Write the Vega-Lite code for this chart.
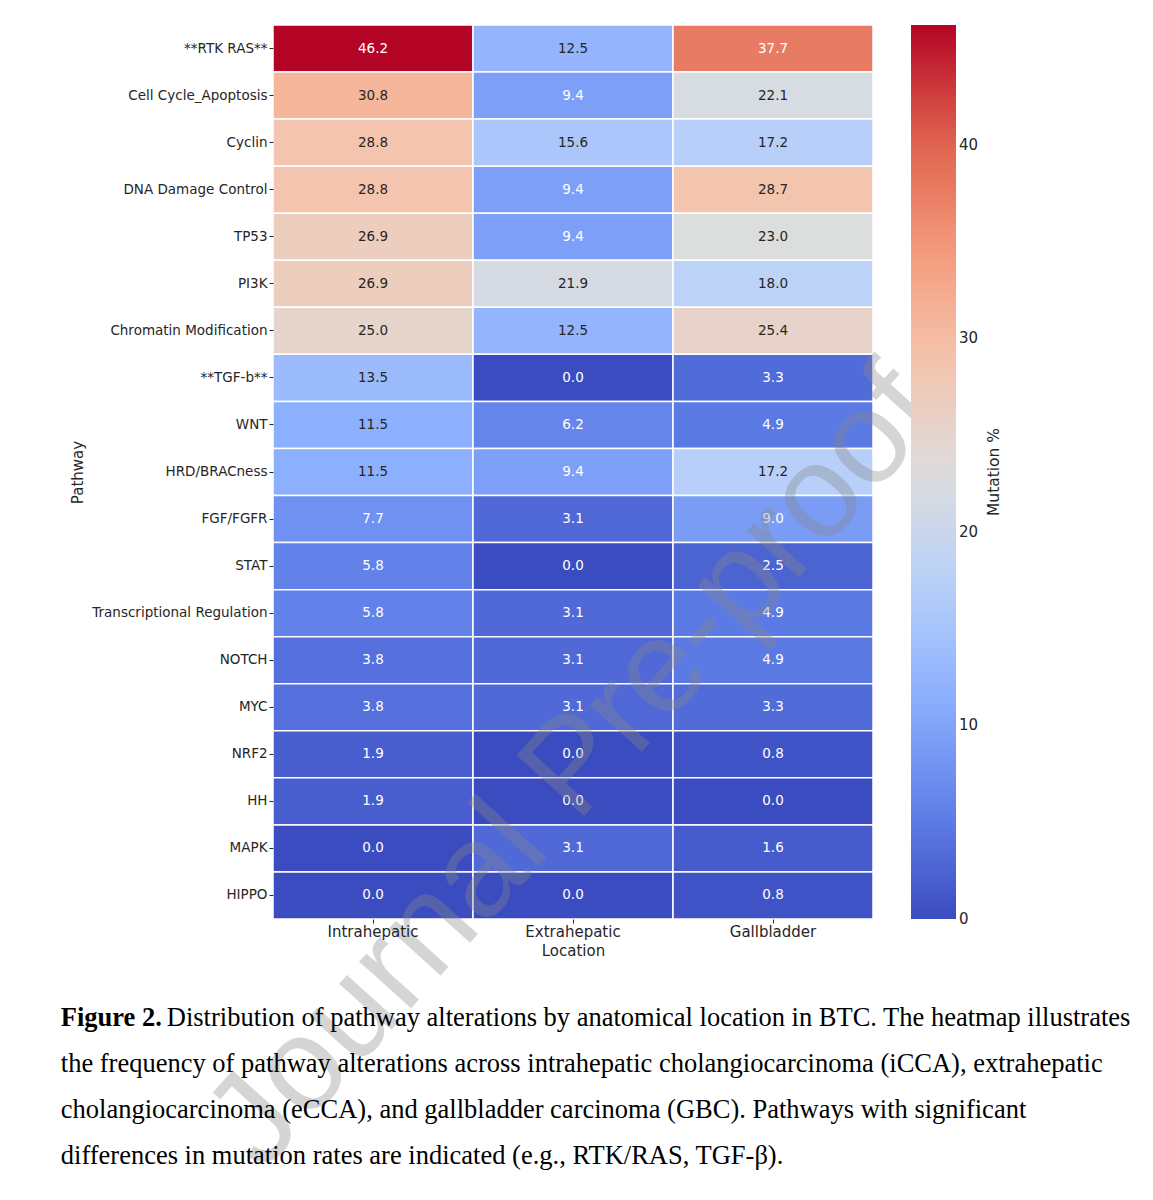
{
  "$schema": "https://vega.github.io/schema/vega-lite/v6.json",
  "width": 600,
  "height": 894,
  "padding": {"left": 60, "top": 24, "right": 5, "bottom": 5},
  "background": "white",
  "config": {"view": {"stroke": null}, "font": "DejaVu Sans"},
  "title": {
    "text": "Figure 2.",
    "subtitle": [
      "\u200b\u00a0\u00a0\u00a0\u00a0\u00a0\u00a0\u00a0\u00a0\u00a0\u00a0\u00a0\u00a0\u00a0\u00a0\u00a0\u00a0Distribution of pathway alterations by anatomical location in BTC. The heatmap illustrates",
      "the frequency of pathway alterations across intrahepatic cholangiocarcinoma (iCCA), extrahepatic",
      "cholangiocarcinoma (eCCA), and gallbladder carcinoma (GBC). Pathways with significant",
      "differences in mutation rates are indicated (e.g., RTK/RAS, TGF-β)."
    ],
    "orient": "bottom",
    "anchor": "start",
    "frame": "bounds",
    "font": "Liberation Serif",
    "fontSize": 26.5,
    "fontWeight": "bold",
    "color": "black",
    "subtitleFont": "Liberation Serif",
    "subtitleFontSize": 26.5,
    "subtitleColor": "black",
    "subtitleLineHeight": 46,
    "subtitlePadding": -26.5,
    "offset": -185,
    "dx": -10
  },
  "data": {
    "values": [
      {"Pathway": "**RTK RAS**", "Location": "Intrahepatic", "value": 46.2},
      {"Pathway": "**RTK RAS**", "Location": "Extrahepatic", "value": 12.5},
      {"Pathway": "**RTK RAS**", "Location": "Gallbladder", "value": 37.7},
      {"Pathway": "Cell Cycle_Apoptosis", "Location": "Intrahepatic", "value": 30.8},
      {"Pathway": "Cell Cycle_Apoptosis", "Location": "Extrahepatic", "value": 9.4},
      {"Pathway": "Cell Cycle_Apoptosis", "Location": "Gallbladder", "value": 22.1},
      {"Pathway": "Cyclin", "Location": "Intrahepatic", "value": 28.8},
      {"Pathway": "Cyclin", "Location": "Extrahepatic", "value": 15.6},
      {"Pathway": "Cyclin", "Location": "Gallbladder", "value": 17.2},
      {"Pathway": "DNA Damage Control", "Location": "Intrahepatic", "value": 28.8},
      {"Pathway": "DNA Damage Control", "Location": "Extrahepatic", "value": 9.4},
      {"Pathway": "DNA Damage Control", "Location": "Gallbladder", "value": 28.7},
      {"Pathway": "TP53", "Location": "Intrahepatic", "value": 26.9},
      {"Pathway": "TP53", "Location": "Extrahepatic", "value": 9.4},
      {"Pathway": "TP53", "Location": "Gallbladder", "value": 23.0},
      {"Pathway": "PI3K", "Location": "Intrahepatic", "value": 26.9},
      {"Pathway": "PI3K", "Location": "Extrahepatic", "value": 21.9},
      {"Pathway": "PI3K", "Location": "Gallbladder", "value": 18.0},
      {"Pathway": "Chromatin Modification", "Location": "Intrahepatic", "value": 25.0},
      {"Pathway": "Chromatin Modification", "Location": "Extrahepatic", "value": 12.5},
      {"Pathway": "Chromatin Modification", "Location": "Gallbladder", "value": 25.4},
      {"Pathway": "**TGF-b**", "Location": "Intrahepatic", "value": 13.5},
      {"Pathway": "**TGF-b**", "Location": "Extrahepatic", "value": 0.0},
      {"Pathway": "**TGF-b**", "Location": "Gallbladder", "value": 3.3},
      {"Pathway": "WNT", "Location": "Intrahepatic", "value": 11.5},
      {"Pathway": "WNT", "Location": "Extrahepatic", "value": 6.2},
      {"Pathway": "WNT", "Location": "Gallbladder", "value": 4.9},
      {"Pathway": "HRD/BRACness", "Location": "Intrahepatic", "value": 11.5},
      {"Pathway": "HRD/BRACness", "Location": "Extrahepatic", "value": 9.4},
      {"Pathway": "HRD/BRACness", "Location": "Gallbladder", "value": 17.2},
      {"Pathway": "FGF/FGFR", "Location": "Intrahepatic", "value": 7.7},
      {"Pathway": "FGF/FGFR", "Location": "Extrahepatic", "value": 3.1},
      {"Pathway": "FGF/FGFR", "Location": "Gallbladder", "value": 9.0},
      {"Pathway": "STAT", "Location": "Intrahepatic", "value": 5.8},
      {"Pathway": "STAT", "Location": "Extrahepatic", "value": 0.0},
      {"Pathway": "STAT", "Location": "Gallbladder", "value": 2.5},
      {"Pathway": "Transcriptional Regulation", "Location": "Intrahepatic", "value": 5.8},
      {"Pathway": "Transcriptional Regulation", "Location": "Extrahepatic", "value": 3.1},
      {"Pathway": "Transcriptional Regulation", "Location": "Gallbladder", "value": 4.9},
      {"Pathway": "NOTCH", "Location": "Intrahepatic", "value": 3.8},
      {"Pathway": "NOTCH", "Location": "Extrahepatic", "value": 3.1},
      {"Pathway": "NOTCH", "Location": "Gallbladder", "value": 4.9},
      {"Pathway": "MYC", "Location": "Intrahepatic", "value": 3.8},
      {"Pathway": "MYC", "Location": "Extrahepatic", "value": 3.1},
      {"Pathway": "MYC", "Location": "Gallbladder", "value": 3.3},
      {"Pathway": "NRF2", "Location": "Intrahepatic", "value": 1.9},
      {"Pathway": "NRF2", "Location": "Extrahepatic", "value": 0.0},
      {"Pathway": "NRF2", "Location": "Gallbladder", "value": 0.8},
      {"Pathway": "HH", "Location": "Intrahepatic", "value": 1.9},
      {"Pathway": "HH", "Location": "Extrahepatic", "value": 0.0},
      {"Pathway": "HH", "Location": "Gallbladder", "value": 0.0},
      {"Pathway": "MAPK", "Location": "Intrahepatic", "value": 0.0},
      {"Pathway": "MAPK", "Location": "Extrahepatic", "value": 3.1},
      {"Pathway": "MAPK", "Location": "Gallbladder", "value": 1.6},
      {"Pathway": "HIPPO", "Location": "Intrahepatic", "value": 0.0},
      {"Pathway": "HIPPO", "Location": "Extrahepatic", "value": 0.0},
      {"Pathway": "HIPPO", "Location": "Gallbladder", "value": 0.8}
    ]
  },
  "encoding": {
    "x": {
      "field": "Location", "type": "nominal", "sort": null,
      "axis": {"orient": "bottom", "labelAngle": 0, "title": "Location", "labelFontSize": 15, "titleFontSize": 15, "titleFontWeight": "normal", "domain": false, "tickSize": 4, "labelPadding": 1, "titlePadding": 4, "labelColor": "#262626", "titleColor": "#262626", "tickColor": "#262626"}
    },
    "y": {
      "field": "Pathway", "type": "nominal", "sort": null,
      "axis": {"title": "Pathway", "labelFontSize": 13.5, "titleFontSize": 15, "titleFontWeight": "normal", "domain": false, "tickSize": 4, "labelPadding": 2, "titlePadding": 6, "labelLimit": 0, "labelColor": "#262626", "titleColor": "#262626", "tickColor": "#262626"}
    }
  },
  "layer": [
    {
      "mark": {"type": "rect", "stroke": "white", "strokeWidth": 1.5},
      "encoding": {
        "color": {
          "field": "value", "type": "quantitative",
          "scale": {
            "domain": [0, 5.775, 11.55, 17.325, 23.1, 28.875, 34.65, 40.425, 46.2],
            "range": ["#3b4cc0", "#6282ea", "#8db0fe", "#b8d0f9", "#dddddd", "#f5c4ad", "#f49a7b", "#de604d", "#b40426"],
            "interpolate": "rgb"
          },
          "legend": {
            "title": "Mutation %", "orient": "right", "offset": 38, "direction": "vertical",
            "gradientLength": 894, "gradientThickness": 45, "gradientStrokeWidth": 0,
            "values": [0, 10, 20, 30, 40], "labelFontSize": 15, "labelOffset": 3, "labelColor": "#262626",
            "titleFontSize": 15.5, "titleFontWeight": "normal", "titleColor": "#262626", "titleOrient": "right",
            "titleAnchor": "middle", "titlePadding": 24,
            "encode": {
              "labels": {"update": {"baseline": {"value": "middle"}}},
              "title": {"update": {"angle": {"value": -90}}}
            }
          }
        }
      }
    },
    {
      "mark": {"type": "text", "fontSize": 13.5},
      "encoding": {
        "text": {"field": "value", "type": "quantitative", "format": ".1f"},
        "color": {
          "condition": {"test": "datum.value < 10.5 || datum.value > 35.5", "value": "white"},
          "value": "#262626"
        }
      }
    },
    {
      "data": {"values": [{"wm": "Journal Pre-proof"}]},
      "mark": {"type": "text", "fontSize": 132, "font": "Liberation Sans", "angle": -48, "align": "center", "baseline": "middle", "color": "#888888", "opacity": 0.35, "dx": 26, "dy": -22},
      "encoding": {
        "x": {"datum": "Extrahepatic", "type": "nominal"},
        "y": {"datum": "HH", "type": "nominal"},
        "text": {"field": "wm", "type": "nominal"}
      }
    }
  ]
}
